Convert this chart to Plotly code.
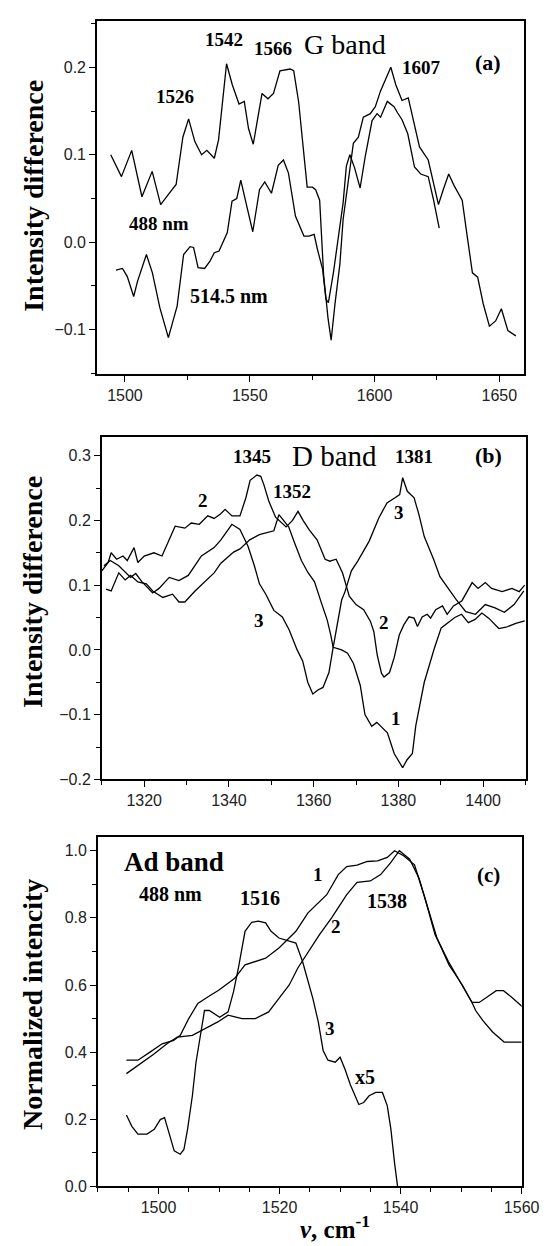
import plotly.graph_objects as go

# ---------------- Panel (a): G band ----------------
a488_x = [1494.3, 1498.6, 1502.7, 1506.8, 1510.9, 1514.3, 1517.5, 1520.5, 1523.2, 1525.5, 1528.0, 1530.7,
          1532.8, 1535.8, 1537.5, 1540.7, 1543.0, 1545.7, 1547.8, 1549.5, 1551.4, 1554.9, 1557.3, 1559.5,
          1562.1, 1566.2, 1567.6, 1569.6, 1571.0, 1573.0, 1575.1, 1576.4, 1578.0, 1579.6, 1581.4, 1582.6,
          1584.2, 1586.1, 1587.4, 1589.3, 1591.5, 1593.5, 1595.5, 1598.3, 1600.3, 1602.4, 1604.5, 1606.5,
          1608.5, 1611.0, 1613.5, 1615.5, 1618.0, 1621.5, 1623.5, 1625.6, 1627.5, 1629.7, 1631.8, 1633.8,
          1635.1, 1637.2, 1639.2, 1641.3, 1643.5, 1646.0, 1648.5, 1650.8, 1653.4, 1656.6]
a488_y = [0.100, 0.075, 0.105, 0.052, 0.081, 0.043, 0.055, 0.066, 0.120, 0.141, 0.115, 0.100,
          0.105, 0.096, 0.117, 0.204, 0.180, 0.158, 0.161, 0.130, 0.112, 0.170, 0.164, 0.170,
          0.196, 0.198, 0.196, 0.160, 0.120, 0.063, 0.063, 0.060, 0.048, -0.038, -0.088, -0.112,
          -0.069, -0.025, 0.026, 0.064, 0.113, 0.120, 0.143, 0.147, 0.155, 0.173, 0.188, 0.200,
          0.180, 0.162, 0.165, 0.140, 0.109, 0.094, 0.070, 0.043, 0.060, 0.078, 0.065, 0.054,
          0.048, 0.005, -0.035, -0.040, -0.070, -0.096, -0.090, -0.076, -0.101, -0.107]

a514_x = [1496.4, 1499.0, 1500.9, 1503.5, 1505.0, 1508.6, 1511.0, 1514.0, 1517.4, 1520.9, 1523.5, 1526.1,
          1527.5, 1529.3, 1531.9, 1534.0, 1535.8, 1537.7, 1541.0, 1542.9, 1544.8, 1546.4, 1548.5, 1551.2,
          1553.9, 1556.0, 1558.7, 1561.4, 1563.5, 1565.5, 1568.3, 1571.7, 1573.7, 1575.8, 1577.1, 1579.2,
          1580.5, 1581.5, 1583.5, 1585.5, 1587.4, 1588.7, 1590.1, 1592.0, 1594.2, 1596.2, 1597.6, 1599.0,
          1601.0, 1602.4, 1605.1, 1607.8, 1609.2, 1611.0, 1613.3, 1616.0, 1618.5, 1621.5, 1623.5, 1625.9]
a514_y = [-0.032, -0.030, -0.039, -0.062, -0.045, -0.014, -0.035, -0.075, -0.109, -0.073, -0.014, -0.005,
          -0.006, -0.029, -0.030, -0.022, -0.012, -0.010, 0.011, 0.047, 0.050, 0.071, 0.045, 0.012,
          0.060, 0.069, 0.056, 0.088, 0.094, 0.079, 0.030, 0.007, 0.007, 0.009, -0.008, -0.031,
          -0.065, -0.069, -0.035, 0.007, 0.045, 0.087, 0.100, 0.085, 0.062, 0.097, 0.117, 0.139,
          0.147, 0.143, 0.161, 0.155, 0.148, 0.140, 0.124, 0.086, 0.078, 0.075, 0.050, 0.016]

# ---------------- Panel (b): D band ----------------
b1_x = [1311.0, 1312.2, 1314.0, 1315.5, 1316.8, 1318.5, 1320.5, 1322.0, 1324.4, 1326.7, 1328.2, 1329.6,
        1332.0, 1334.3, 1336.5, 1338.1, 1341.1, 1342.6, 1344.9, 1347.2, 1349.0, 1350.6, 1351.8, 1354.1,
        1355.5, 1357.1, 1358.6, 1360.2, 1361.7, 1363.2, 1364.0, 1364.6, 1366.6, 1368.0, 1369.4, 1371.0,
        1372.1, 1373.7, 1374.9, 1377.4, 1379.0, 1381.0, 1382.0, 1383.3, 1384.1, 1385.0, 1386.1, 1388.5,
        1390.1, 1393.3, 1394.9, 1396.5, 1398.1, 1399.7, 1401.3, 1403.7, 1405.4, 1407.7, 1409.8]
b1_y = [0.094, 0.091, 0.119, 0.108, 0.115, 0.105, 0.102, 0.091, 0.081, 0.086, 0.074, 0.074,
        0.091, 0.106, 0.119, 0.134, 0.151, 0.156, 0.170, 0.178, 0.181, 0.184, 0.209, 0.190,
        0.165, 0.138, 0.120, 0.105, 0.075, 0.046, 0.024, 0.004, 0.000, -0.005, -0.021, -0.055,
        -0.100, -0.118, -0.112, -0.128, -0.160, -0.182, -0.170, -0.160, -0.117, -0.085, -0.050, 0.003,
        0.034, 0.050, 0.055, 0.042, 0.047, 0.057, 0.049, 0.033, 0.035, 0.041, 0.045]

b2_x = [1310.0, 1311.5, 1312.2, 1313.5, 1315.0, 1316.0, 1317.6, 1318.5, 1320.0, 1322.3, 1324.2, 1327.3,
        1329.6, 1331.1, 1333.0, 1335.0, 1336.5, 1338.0, 1339.1, 1340.7, 1342.6, 1344.0, 1345.0, 1346.6,
        1347.5, 1348.2, 1349.4, 1351.0, 1353.5, 1355.0, 1356.3, 1357.5, 1359.0, 1360.8, 1362.7, 1363.8,
        1365.3, 1366.8, 1368.4, 1370.0, 1371.8, 1373.4, 1374.2, 1375.0, 1376.0, 1376.6, 1377.9, 1379.0,
        1380.2, 1381.3, 1382.5, 1383.7, 1384.5, 1385.6, 1386.8, 1387.6, 1388.8, 1390.4, 1391.5, 1393.0,
        1395.0, 1396.2, 1397.4, 1398.8, 1400.5, 1402.0, 1404.5, 1406.8, 1408.5, 1409.8]
b2_y = [0.122, 0.135, 0.150, 0.140, 0.145, 0.138, 0.158, 0.135, 0.145, 0.150, 0.145, 0.191,
        0.188, 0.196, 0.194, 0.207, 0.203, 0.210, 0.217, 0.207, 0.207, 0.235, 0.262, 0.270,
        0.268, 0.256, 0.230, 0.205, 0.190, 0.200, 0.214, 0.200, 0.185, 0.170, 0.140, 0.137,
        0.140, 0.119, 0.083, 0.070, 0.062, 0.044, 0.028, -0.008, -0.036, -0.042, -0.035, -0.012,
        0.023, 0.039, 0.051, 0.049, 0.036, 0.051, 0.055, 0.049, 0.062, 0.068, 0.055, 0.068,
        0.076, 0.090, 0.104, 0.095, 0.104, 0.095, 0.090, 0.095, 0.090, 0.100]

b3_x = [1310.5, 1312.0, 1314.0, 1316.8, 1318.0, 1319.5, 1322.0, 1323.5, 1325.9, 1328.2, 1330.4, 1333.5,
        1336.5, 1338.1, 1340.7, 1342.6, 1344.5, 1346.0, 1347.2, 1348.7, 1350.6, 1352.6, 1354.2, 1356.1,
        1357.4, 1358.6, 1359.8, 1361.0, 1362.2, 1363.6, 1364.6, 1366.6, 1367.4, 1368.9, 1370.4, 1373.1,
        1375.4, 1377.3, 1379.2, 1380.3, 1381.0, 1382.1, 1383.7, 1384.8, 1386.1, 1388.3, 1389.8, 1391.7,
        1393.6, 1395.9, 1398.2, 1400.5, 1402.8, 1405.0, 1407.3, 1409.6]
b3_y = [0.130, 0.138, 0.130, 0.112, 0.118, 0.105, 0.088, 0.095, 0.112, 0.107, 0.115, 0.145,
        0.158, 0.170, 0.194, 0.186, 0.160, 0.130, 0.102, 0.086, 0.061, 0.051, 0.031, 0.000,
        -0.017, -0.050, -0.068, -0.062, -0.058, -0.035, 0.004, 0.077, 0.090, 0.122, 0.137, 0.168,
        0.204, 0.227, 0.235, 0.240, 0.266, 0.245, 0.235, 0.210, 0.175, 0.140, 0.113, 0.095,
        0.078, 0.059, 0.055, 0.070, 0.065, 0.058, 0.070, 0.091]

# ---------------- Panel (c): Ad band ----------------
c1_x = [1494.7, 1496.6, 1498.6, 1500.6, 1502.5, 1503.6, 1505.0, 1506.5, 1508.2, 1510.0, 1512.6, 1514.3,
        1517.7, 1519.9, 1522.7, 1524.7, 1527.8, 1529.7, 1531.1, 1532.8, 1534.5, 1536.2, 1537.8, 1539.0,
        1540.5, 1542.3, 1544.0, 1545.7, 1547.9, 1550.2, 1551.8, 1552.4, 1553.6, 1555.2, 1557.1, 1560.0]
c1_y = [0.376, 0.376, 0.400, 0.425, 0.435, 0.450, 0.500, 0.545, 0.565, 0.585, 0.620, 0.660,
        0.680, 0.710, 0.760, 0.815, 0.869, 0.929, 0.953, 0.957, 0.968, 0.970, 0.980, 1.000,
        0.985, 0.958, 0.860, 0.750, 0.670, 0.600, 0.548, 0.524, 0.494, 0.460, 0.430, 0.430]

c2_x = [1494.7, 1497.0, 1499.2, 1501.4, 1503.1, 1505.6, 1507.6, 1509.8, 1511.5, 1513.8, 1516.0, 1518.2,
        1519.9, 1521.6, 1523.0, 1524.4, 1526.6, 1528.6, 1531.1, 1532.8, 1535.0, 1536.7, 1538.3, 1539.8,
        1541.5, 1543.0, 1544.5, 1546.0, 1548.0, 1550.2, 1551.8, 1553.0, 1555.8, 1557.0, 1558.4, 1560.2]
c2_y = [0.336, 0.365, 0.394, 0.425, 0.445, 0.450, 0.470, 0.490, 0.510, 0.500, 0.500, 0.520,
        0.560, 0.600, 0.650, 0.690, 0.750, 0.800, 0.869, 0.906, 0.910, 0.929, 0.963, 1.000,
        0.975, 0.920, 0.830, 0.740, 0.660, 0.600, 0.548, 0.548, 0.583, 0.583, 0.563, 0.534]

c3_x = [1494.7, 1495.6, 1496.6, 1498.1, 1499.3, 1500.3, 1501.0, 1501.6, 1502.6, 1503.6, 1504.2, 1504.8,
        1505.6, 1506.2, 1506.8, 1507.6, 1508.4, 1510.1, 1511.5, 1512.4, 1513.2, 1514.3, 1515.4, 1516.5,
        1517.7, 1518.6, 1519.9, 1521.6, 1522.7, 1523.8, 1524.7, 1525.5, 1526.4, 1527.2, 1528.0, 1529.2,
        1530.0, 1530.8, 1531.7, 1532.5, 1533.1, 1533.9, 1534.8, 1535.9, 1537.0, 1537.8, 1538.4, 1539.0,
        1539.5]
c3_y = [0.213, 0.179, 0.156, 0.156, 0.170, 0.199, 0.205, 0.170, 0.106, 0.096, 0.110, 0.170,
        0.270, 0.370, 0.440, 0.524, 0.524, 0.504, 0.520, 0.580, 0.650, 0.760, 0.787, 0.790,
        0.785, 0.760, 0.740, 0.730, 0.725, 0.670, 0.610, 0.560, 0.490, 0.405, 0.376, 0.370,
        0.385, 0.350, 0.303, 0.270, 0.244, 0.250, 0.270, 0.280, 0.280, 0.240, 0.170, 0.070,
        0.000]

W, H = 551, 1246
def px_dom(l, r, t, b):
    return dict(x=[l / W, r / W], y=[1 - b / H, 1 - t / H])

dom_a = px_dom(92, 533, 13, 369)
dom_b = px_dom(97, 535, 432, 777)
dom_c = px_dom(93, 531, 835, 1187)

line = dict(color="black", width=1.3)
fig = go.Figure()
for xs, ys in [(a488_x, a488_y), (a514_x, a514_y)]:
    fig.add_trace(go.Scatter(x=xs, y=ys, mode="lines", line=line, xaxis="x", yaxis="y", showlegend=False))
for xs, ys in [(b1_x, b1_y), (b2_x, b2_y), (b3_x, b3_y)]:
    fig.add_trace(go.Scatter(x=xs, y=ys, mode="lines", line=line, xaxis="x2", yaxis="y2", showlegend=False))
for xs, ys in [(c1_x, c1_y), (c2_x, c2_y), (c3_x, c3_y)]:
    fig.add_trace(go.Scatter(x=xs, y=ys, mode="lines", line=line, xaxis="x3", yaxis="y3", showlegend=False))

tickfont = dict(family="Liberation Sans, Arial, sans-serif", size=16, color="#222")
def ax(dom, rng, dtick, minor_dtick, anchor, fmt=None):
    d = dict(domain=dom, range=rng, dtick=dtick, tick0=0, ticks="outside", ticklen=6, tickwidth=1.2,
             tickcolor="black", showline=True, linecolor="black", linewidth=1.6, mirror=True,
             showgrid=False, zeroline=False, tickfont=tickfont, anchor=anchor,
             minor=dict(dtick=minor_dtick, ticks="outside", ticklen=4, tickcolor="black", tickwidth=1.0, showgrid=False))
    if fmt:
        d["tickformat"] = fmt
    return d

layout = dict(
    width=W, height=H, margin=dict(l=0, r=0, t=0, b=0),
    paper_bgcolor="white", plot_bgcolor="white", showlegend=False,
    xaxis=ax(dom_a["x"], [1488.8, 1659.7], 50, 25, "y"),
    yaxis=ax(dom_a["y"], [-0.151, 0.253], 0.1, 0.05, "x", ".1f"),
    xaxis2=ax(dom_b["x"], [1310, 1410], 20, 10, "y2"),
    yaxis2=ax(dom_b["y"], [-0.2, 0.329], 0.1, 0.05, "x2", ".1f"),
    xaxis3=ax(dom_c["x"], [1490, 1560], 20, 5, "y3"),
    yaxis3=ax(dom_c["y"], [0, 1.041], 0.2, 0.1, "x3", ".1f"),
)
fig.update_layout(**layout)

serif = "Liberation Serif, Times New Roman, serif"
def lab(text, x, y, xr, yr, size=19, bold=True):
    t = f"<b>{text}</b>" if bold else text
    fig.add_annotation(text=t, x=x, y=y, xref=xr, yref=yr, showarrow=False,
                       xanchor="center", yanchor="middle",
                       font=dict(family=serif, size=size, color="black"))

# panel a labels
lab("1542", 1539.6, 0.232, "x", "y")
lab("1566", 1559.4, 0.221, "x", "y")
lab("G band", 1588.0, 0.226, "x", "y", size=28, bold=False)
lab("1526", 1520.1, 0.167, "x", "y")
lab("1607", 1618.8, 0.200, "x", "y")
lab("(a)", 1645.4, 0.205, "x", "y", size=22)
lab("488 nm", 1513.7, 0.021, "x", "y", size=19)
lab("514.5 nm", 1541.6, -0.061, "x", "y", size=20)

# panel b labels
lab("1345", 1345.4, 0.299, "x2", "y2")
lab("D band", 1365.0, 0.300, "x2", "y2", size=29, bold=False)
lab("1381", 1383.7, 0.299, "x2", "y2")
lab("(b)", 1401.3, 0.300, "x2", "y2", size=22)
lab("2", 1333.8, 0.230, "x2", "y2")
lab("1352", 1355.0, 0.245, "x2", "y2")
lab("3", 1380.1, 0.212, "x2", "y2")
lab("3", 1347.0, 0.045, "x2", "y2")
lab("2", 1376.6, 0.043, "x2", "y2")
lab("1", 1379.4, -0.106, "x2", "y2")

# panel c labels
lab("Ad band", 1502.6, 0.967, "x3", "y3", size=27)
lab("(c)", 1554.6, 0.929, "x3", "y3", size=21)
lab("488 nm", 1502.0, 0.870, "x3", "y3", size=20)
lab("1516", 1516.8, 0.859, "x3", "y3", size=20)
lab("1", 1526.3, 0.929, "x3", "y3")
lab("1538", 1537.8, 0.849, "x3", "y3", size=20)
lab("2", 1529.4, 0.775, "x3", "y3")
lab("3", 1528.3, 0.470, "x3", "y3")
lab("x5", 1534.2, 0.326, "x3", "y3", size=20)

# axis titles
def ytitle(text, ycen):
    fig.add_annotation(text=f"<b>{text}</b>", x=26 / W, y=1 - ycen / H, xref="paper", yref="paper",
                       xanchor="center", yanchor="middle",
                       showarrow=False, textangle=-90, font=dict(family=serif, size=28, color="black"))
ytitle("Intensity difference", 189)
ytitle("Intensity difference", 588)
ytitle("Normalized intencity", 1004)
fig.add_annotation(text="<b><i>ν</i>, cm<sup>-1</sup></b>", x=338 / W, y=0, xref="paper", yref="paper",
                   xanchor="center", yanchor="bottom",
                   showarrow=False, font=dict(family=serif, size=25, color="black"))

fig.write_html("out.html")
